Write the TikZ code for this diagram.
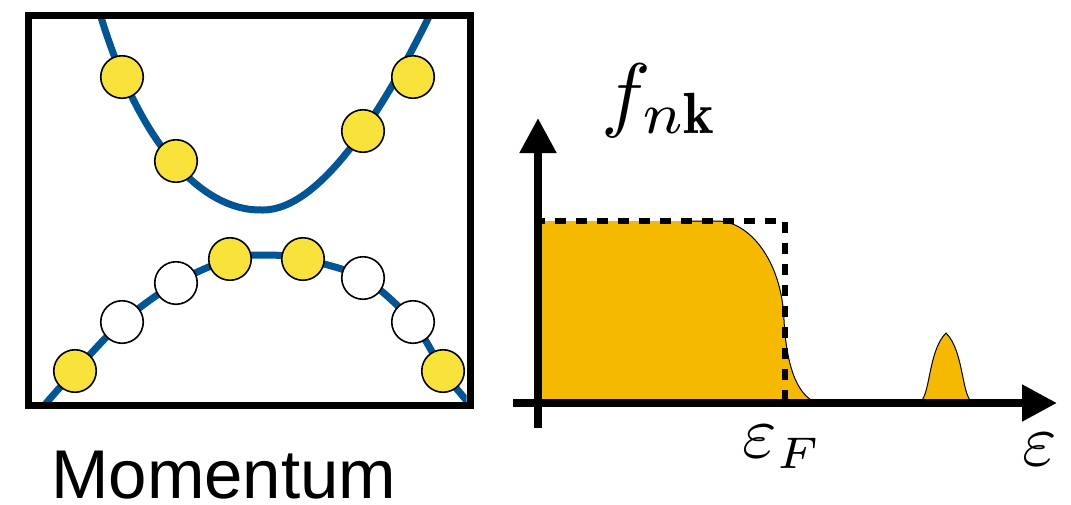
\documentclass[tikz,border=0pt]{standalone}
\usepackage{fontspec}
\newfontfamily\helv{Liberation Sans}
\usetikzlibrary{arrows.meta}
\definecolor{bandblue}{RGB}{0,85,150}
\definecolor{eyellow}{RGB}{249,226,57}
\definecolor{fillorange}{RGB}{245,185,0}
\begin{document}
\begin{tikzpicture}[x=1pt,y=-1pt,
  band/.style={draw=bandblue,line width=7pt},
  occ/.style={circle,draw=black,line width=1.6pt,fill=eyellow,minimum size=42.5pt,inner sep=0pt},
  emp/.style={occ,fill=white},
  axisline/.style={line width=8pt,-{Triangle[length=35pt,width=35pt]}},
  lbl/.style={inner sep=0pt,anchor=base west}]
\useasboundingbox (0,0) rectangle (1071,504);
% bands, clipped to the box interior
\begin{scope}
\clip (32,19) rectangle (466.5,402);
\draw[band] (96,0) .. controls (135,140) and (200,212) .. (263,210) .. controls (320,210) and (385,110) .. (437,0);
\draw[band] plot[smooth,tension=0.55] coordinates {(35,418) (48,401) (75,371) (122,322) (176,283) (230,259) (266,255) (303,259) (363,278) (413,322) (443,371) (466,400) (478,416)};
\end{scope}
% electrons / holes
\node[occ] (u1) at (122,77) {};
\node[occ] (u2) at (176,161) {};
\node[occ] (u3) at (363,131) {};
\node[occ] (u4) at (413,77) {};
\node[occ] (l1) at (75,371) {};
\node[emp] (l2) at (122,322) {};
\node[emp] (l3) at (176,283) {};
\node[occ] (l4) at (230,259) {};
\node[occ] (l5) at (303,259) {};
\node[emp] (l6) at (363,278) {};
\node[emp] (l7) at (413,322) {};
\node[occ] (l8) at (443,371) {};
% box
\draw[line width=7pt] (28.5,15.5) rectangle (470,405.5);
\node[lbl] (mom) at (51,498.5) {\helv\fontsize{69}{83}\selectfont Momentum};
% distribution
\fill[fillorange] (538,403) -- (538,221) -- (717,221) .. controls (750,221) and (782,262) .. (784,320) .. controls (786,360) and (795,395) .. (817,403) -- cycle;
\draw[line width=1pt] (690,221) -- (717,221) .. controls (750,221) and (782,262) .. (784,320) .. controls (786,360) and (795,395) .. (817,403);
\filldraw[fill=fillorange,draw=black,line width=1pt] (918,403) .. controls (931,400) and (927,352) .. (946,333) .. controls (965,352) and (961,400) .. (974,403);
\draw[line width=5.5pt,dash pattern=on 10.5pt off 10.5pt,dash phase=4pt] (538,221) -- (785,221) -- (785,403);
% axes
\coordinate (ystart) at (538,428);
\coordinate (yend) at (538,118);
\coordinate (xstart) at (513,403);
\coordinate (xend) at (1057,403);
\draw[axisline] (ystart) -- (yend);
\draw[axisline] (xstart) -- (xend);
\node[lbl,scale=8.3] (fnk) at (600,121) {$f_{n\mathbf{k}}$};
\node[lbl,scale=7.4] (eF) at (741,457) {$\varepsilon_{\mbox{\fontsize{6}{7}\selectfont$F$}}$};
\node[lbl,scale=7.4] (eps) at (1021,465) {$\varepsilon$};
\end{tikzpicture}
\end{document}
